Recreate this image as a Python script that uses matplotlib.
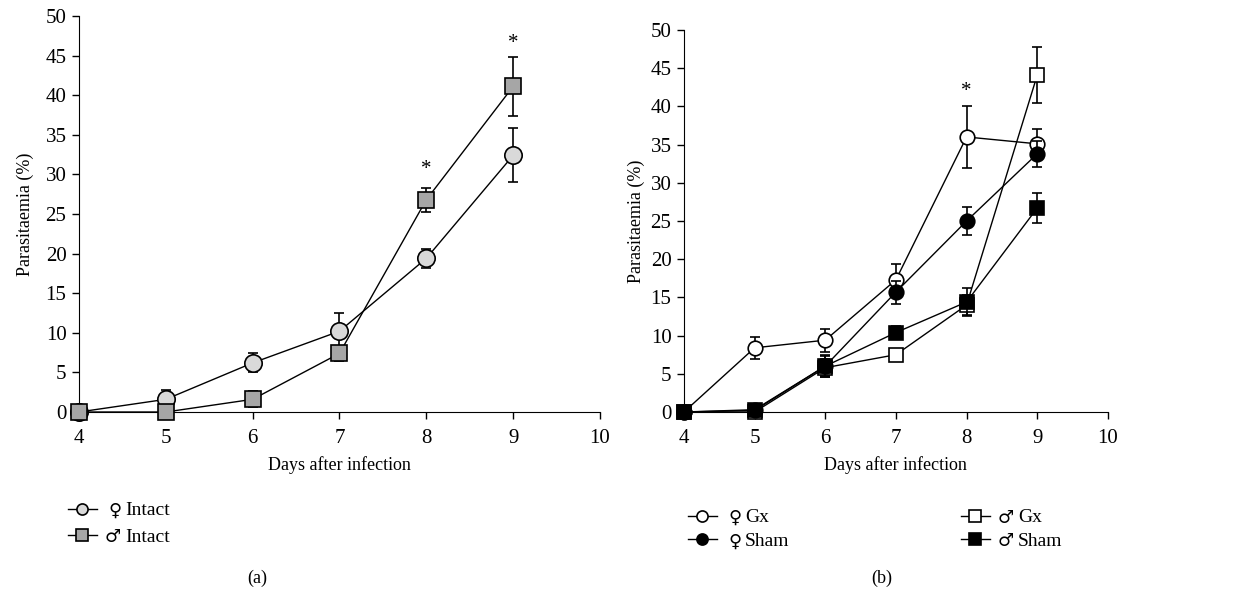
import matplotlib.pyplot as plt

plt.rcParams['font.family'] = ['Liberation Serif', 'DejaVu Sans']
plt.rcParams['font.size'] = 14

days = [4, 5, 6, 7, 8, 9]

# panel (a)
fem_intact = [0, 1.6, 6.2, 10.2, 19.4, 32.4]
fem_intact_err = [0, 1.2, 1.2, 2.3, 1.2, 3.4]
male_intact = [0, 0, 1.6, 7.4, 26.8, 41.1]
male_intact_err = [0, 0, 1.0, 0.9, 1.5, 3.7]
stars_a_x = [8, 9]
stars_a_y = [30.6, 46.5]

# panel (b)
fem_gx = [0, 8.4, 9.4, 17.3, 36.0, 35.1]
fem_gx_err = [0, 1.4, 1.5, 2.1, 4.0, 2.0]
fem_sham = [0, 0.3, 6.0, 15.7, 25.0, 33.8]
fem_sham_err = [0, 0.4, 1.3, 1.5, 1.8, 1.7]
male_gx = [0, 0, 5.8, 7.5, 14.0, 44.1]
male_gx_err = [0, 0.3, 1.2, 0.8, 1.3, 3.7]
male_sham = [0, 0.2, 6.0, 10.4, 14.4, 26.7]
male_sham_err = [0, 0.4, 1.4, 0.8, 1.8, 1.9]
stars_b_x = [8]
stars_b_y = [42.0]

FEMALE = '\u2640'
MALE = '\u2642'

fig = plt.figure(figsize=(12.44, 5.94), dpi=100)
ax1 = fig.add_axes([0.0635, 0.3064, 0.4188, 0.6667])
ax2 = fig.add_axes([0.5498, 0.3064, 0.3408, 0.6431])


def series(ax, y, err, marker, face, ms, z):
    return ax.errorbar(days, y, yerr=err, fmt='-', color='black', lw=1,
                       marker=marker, ms=ms, mfc=face, mec='black', mew=1.2,
                       ecolor='black', elinewidth=1.2, capsize=3.8, capthick=1.2,
                       clip_on=False, zorder=z)


series(ax1, fem_intact, fem_intact_err, 'o', '#d9d9d9', 12.5, 3)
series(ax1, male_intact, male_intact_err, 's', '#a6a6a6', 12, 4)
for x, y in zip(stars_a_x, stars_a_y):
    ax1.text(x, y, '*', ha='center', va='center', fontsize=15)

series(ax2, fem_gx, fem_gx_err, 'o', 'white', 10.5, 3)
series(ax2, male_gx, male_gx_err, 's', 'white', 10, 4)
series(ax2, fem_sham, fem_sham_err, 'o', 'black', 10.5, 5)
series(ax2, male_sham, male_sham_err, 's', 'black', 10, 6)
for x, y in zip(stars_b_x, stars_b_y):
    ax2.text(x, y, '*', ha='center', va='center', fontsize=15)

for ax, lp in ((ax1, 8), (ax2, 4)):
    ax.set_xlim(4, 10)
    ax.set_ylim(0, 50)
    ax.set_xticks(range(4, 11))
    ax.set_yticks(range(0, 51, 5))
    ax.spines['top'].set_visible(False)
    ax.spines['right'].set_visible(False)
    ax.tick_params(direction='out', length=5, width=1, labelsize=15)
    ax.tick_params(axis='x', pad=7)
    ax.tick_params(axis='y', pad=4)
    ax.set_xlabel('Days after infection', fontsize=13, labelpad=6)
    ax.set_ylabel('Parasitaemia (%)', fontsize=13, labelpad=lp)

fig.text(257 / 1244, 1 - 578 / 594, '(a)', ha='center', va='center', fontsize=13)
fig.text(882 / 1244, 1 - 578 / 594, '(b)', ha='center', va='center', fontsize=13)


def handle(marker, face):
    return plt.Line2D([], [], color='black', lw=1, marker=marker, ms=8,
                      mfc=face, mec='black', mew=1.2)


# the sex sign goes in front of each label, drawn in a font with full-size glyphs
leg_a = fig.legend([handle('o', '#d9d9d9'), handle('s', '#a6a6a6')],
                   ['Intact', 'Intact'],
                   loc='upper left', bbox_to_anchor=(58 / 1244, 1 - 492 / 594),
                   frameon=False, fontsize=14, handlelength=1.5, handletextpad=1.45,
                   labelspacing=0.45, borderpad=0)
signs_a = [FEMALE, MALE]

leg_b = fig.legend([handle('o', 'white'), handle('o', 'black'),
                    handle('s', 'white'), handle('s', 'black')],
                   ['Gx', 'Sham', 'Gx', 'Sham'],
                   ncol=2, columnspacing=8.8,
                   loc='upper left', bbox_to_anchor=(678 / 1244, 1 - 499 / 594),
                   frameon=False, fontsize=14, handlelength=1.5, handletextpad=1.45,
                   labelspacing=0.3, borderpad=0)
signs_b = [FEMALE, FEMALE, MALE, MALE]

fig.canvas.draw()
renderer = fig.canvas.get_renderer()
for leg, signs in ((leg_a, signs_a), (leg_b, signs_b)):
    for t, s in zip(leg.get_texts(), signs):
        bb = t.get_window_extent(renderer)
        fig.text((bb.x0 - 4) / 1244, (bb.y0 + bb.y1) / 2 / 594, s,
                 ha='right', va='center', fontsize=13, family='DejaVu Sans')

fig.savefig('out.png', dpi=100)
